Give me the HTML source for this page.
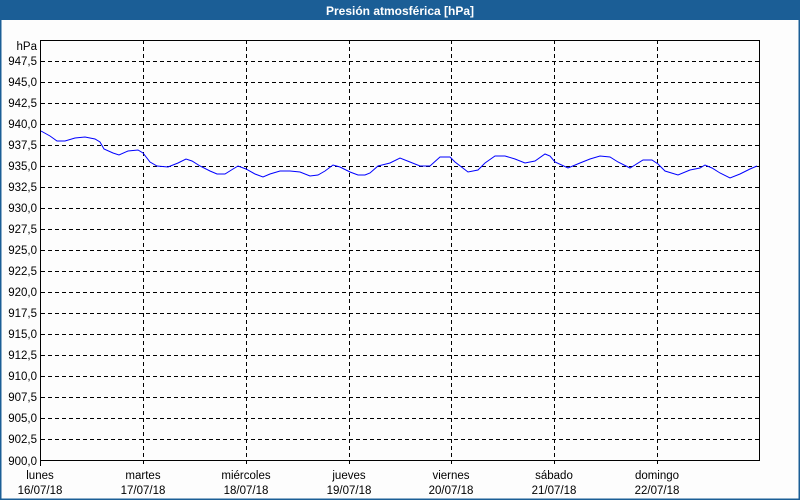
<!DOCTYPE html>
<html><head><meta charset="utf-8"><style>
html,body{margin:0;padding:0;background:#fff}
svg{display:block}
text{font-family:"Liberation Sans","DejaVu Sans",sans-serif;font-size:11.5px;fill:#000}
</style></head><body>
<svg width="800" height="500" xmlns="http://www.w3.org/2000/svg">
<rect x="0" y="0" width="800" height="500" fill="#fdfdfd"/>
<rect x="0.5" y="0.5" width="799" height="499" fill="none" stroke="#1b5e96" stroke-width="2"/>
<rect x="0" y="0" width="800" height="20" fill="#1b5e96"/>
<text x="400" y="15" text-anchor="middle" style="fill:#fff;font-weight:bold;font-size:12px">Presión atmosférica [hPa]</text>
<g stroke="#000" stroke-dasharray="4,3" stroke-width="1">
<line x1="41" x2="760" y1="61.5" y2="61.5"/><line x1="41" x2="760" y1="82.5" y2="82.5"/><line x1="41" x2="760" y1="103.5" y2="103.5"/><line x1="41" x2="760" y1="124.5" y2="124.5"/><line x1="41" x2="760" y1="145.5" y2="145.5"/><line x1="41" x2="760" y1="166.5" y2="166.5"/><line x1="41" x2="760" y1="187.5" y2="187.5"/><line x1="41" x2="760" y1="208.5" y2="208.5"/><line x1="41" x2="760" y1="229.5" y2="229.5"/><line x1="41" x2="760" y1="250.5" y2="250.5"/><line x1="41" x2="760" y1="271.5" y2="271.5"/><line x1="41" x2="760" y1="292.5" y2="292.5"/><line x1="41" x2="760" y1="313.5" y2="313.5"/><line x1="41" x2="760" y1="334.5" y2="334.5"/><line x1="41" x2="760" y1="355.5" y2="355.5"/><line x1="41" x2="760" y1="376.5" y2="376.5"/><line x1="41" x2="760" y1="397.5" y2="397.5"/><line x1="41" x2="760" y1="418.5" y2="418.5"/><line x1="41" x2="760" y1="439.5" y2="439.5"/>
<line x1="143.5" x2="143.5" y1="40" y2="466"/><line x1="246.5" x2="246.5" y1="40" y2="466"/><line x1="349.5" x2="349.5" y1="40" y2="466"/><line x1="451.5" x2="451.5" y1="40" y2="466"/><line x1="554.5" x2="554.5" y1="40" y2="466"/><line x1="657.5" x2="657.5" y1="40" y2="466"/>
</g>
<rect x="40.5" y="40.5" width="719" height="420" fill="none" stroke="#000" stroke-width="1"/>
<line x1="40.5" x2="40.5" y1="460" y2="466" stroke="#000"/>
<g text-anchor="end">
<text x="37" y="50">hPa</text>
<text x="37" y="65">947,5</text><text x="37" y="86">945,0</text><text x="37" y="107">942,5</text><text x="37" y="128">940,0</text><text x="37" y="149">937,5</text><text x="37" y="170">935,0</text><text x="37" y="191">932,5</text><text x="37" y="212">930,0</text><text x="37" y="233">927,5</text><text x="37" y="254">925,0</text><text x="37" y="275">922,5</text><text x="37" y="296">920,0</text><text x="37" y="317">917,5</text><text x="37" y="338">915,0</text><text x="37" y="359">912,5</text><text x="37" y="380">910,0</text><text x="37" y="401">907,5</text><text x="37" y="422">905,0</text><text x="37" y="443">902,5</text><text x="37" y="465">900,0</text>
</g>
<g text-anchor="middle">
<text x="40" y="479">lunes</text><text x="40" y="494">16/07/18</text>
<text x="143" y="479">martes</text><text x="143" y="494">17/07/18</text>
<text x="246" y="479">miércoles</text><text x="246" y="494">18/07/18</text>
<text x="349" y="479">jueves</text><text x="349" y="494">19/07/18</text>
<text x="451" y="479">viernes</text><text x="451" y="494">20/07/18</text>
<text x="554" y="479">sábado</text><text x="554" y="494">21/07/18</text>
<text x="657" y="479">domingo</text><text x="657" y="494">22/07/18</text>
</g>
<polyline fill="none" stroke="#0000ff" stroke-width="1" points="41,131 50,136 57,141 65,141 75,138 85,137 95,139 100,142 104,149 113,153 119,155 128,151 138,150 143,153 150,162 157,166 168,167 178,163 186,159 192,161 200,166 210,171 217,174 225,174 233,169 238,166 246,169 255,174 263,177 270,174 280,171 290,171 300,172 310,176 318,175 325,171 333,165 340,167 350,172 358,175 365,175 370,173 378,166 390,163 400,158 410,162 420,166 430,166 440,157 450,157 455,162 468,172 478,170 485,163 495,156 505,156 515,159 525,163 535,161 545,154 550,156 555,162 568,168 580,163 590,159 600,156 610,157 618,162 630,168 635,165 643,160 652,160 658,164 665,171 678,175 690,170 700,168 705,165 712,168 720,173 730,178 740,174 750,169 757,166"/>
</svg>
</body></html>
